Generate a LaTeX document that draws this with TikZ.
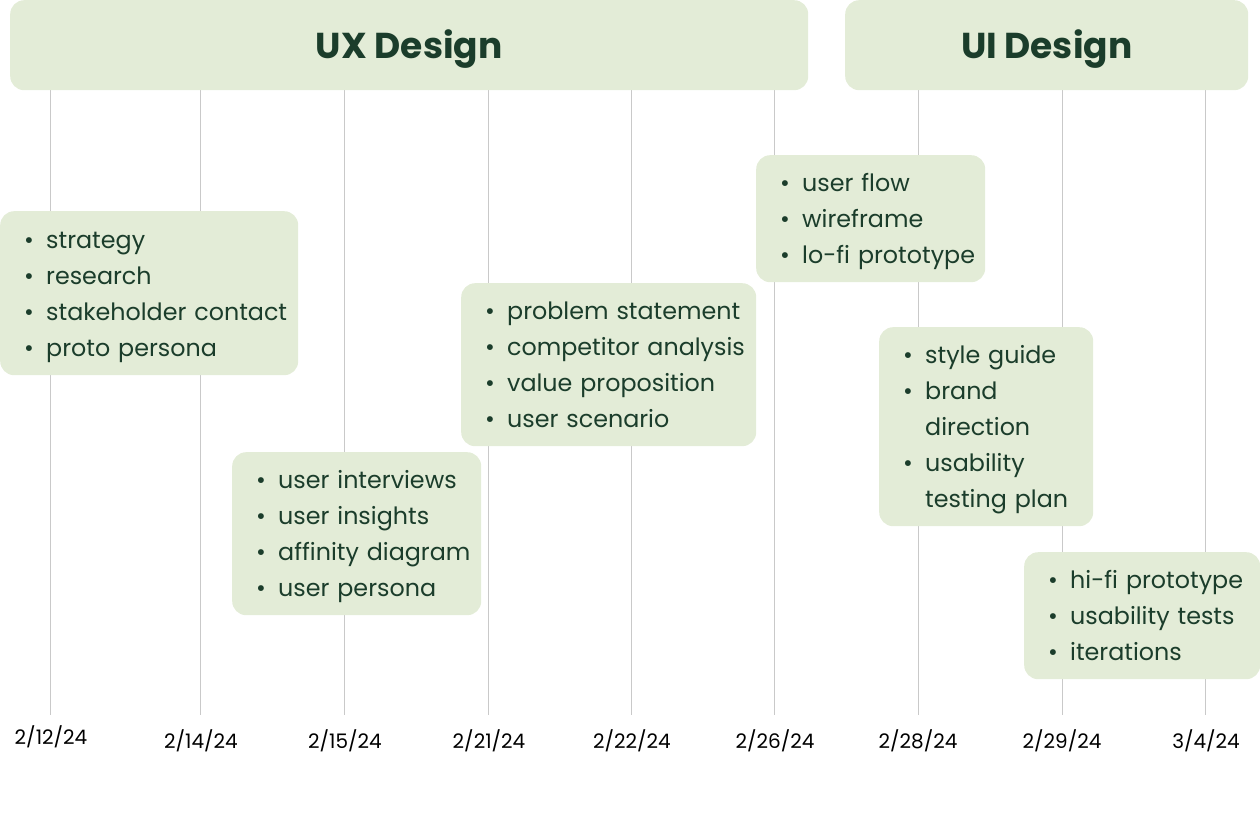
\documentclass[tikz,border=0pt]{standalone}
\usepackage{fontspec}
\setmainfont{Poppins}
\usepackage{xcolor}
\definecolor{sage}{HTML}{E3ECD7}
\definecolor{pine}{HTML}{1B3D2B}
\definecolor{gridgray}{HTML}{C9C9C9}
\newcommand{\bul}[1]{\rule[-9pt]{0pt}{36pt}\hspace*{24pt}\makebox[22pt][l]{•}#1}
\newcommand{\cont}[1]{\rule[-9pt]{0pt}{36pt}\hspace*{46pt}#1}

\begin{document}
\begin{tikzpicture}[x=1pt,y=-1pt,
	phase/.style={fill=sage,rounded corners=14pt,anchor=north west,minimum height=90pt,text height=26pt,text depth=0pt,text=pine,font=\fontsize{36}{40}\selectfont\bfseries},
	taskbox/.style={fill=sage,rounded corners=14pt,anchor=north west,inner xsep=0pt,inner ysep=0pt,align=left,text=pine,font=\fontsize{23.8}{36}\selectfont},
	datelabel/.style={anchor=base,font=\fontsize{20}{22}\selectfont}]
	\useasboundingbox (0,0) rectangle (1260,818);
	\foreach \x in {50,200,344,488,631,774,918,1062,1205}{
		\draw[gridgray,line width=0.8pt] (\x,90) -- (\x,715);
	}
	\node[phase,minimum width=798pt] (ux) at (10,0) {UX Design};
	\node[phase,minimum width=403pt] (ui) at (845,0) {UI Design};
	
	\node[taskbox,text width=298pt,minimum height=164pt] (strategy) at (0,211) {\bul{strategy}\\\bul{research}\\\bul{stakeholder contact}\\\bul{proto persona}};
	\node[taskbox,text width=249pt,minimum height=163pt] (interviews) at (232,452) {\bul{user interviews}\\\bul{user insights}\\\bul{affinity diagram}\\\bul{user persona}};
	\node[taskbox,text width=295pt,minimum height=163pt] (problem) at (461,283) {\bul{problem statement}\\\bul{competitor analysis}\\\bul{value proposition}\\\bul{user scenario}};
	\node[taskbox,text width=229pt,minimum height=127pt] (flow) at (756,155) {\bul{user flow}\\\bul{wireframe}\\\bul{lo-fi prototype}};
	\node[taskbox,text width=214pt,minimum height=199pt] (style) at (879,327) {\bul{style guide}\\\bul{brand}\\\cont{direction}\\\bul{usability}\\\cont{testing plan}};
	\node[taskbox,text width=236pt,minimum height=127pt] (hifi) at (1024,552) {\bul{hi-fi prototype}\\\bul{usability tests}\\\bul{iterations}};
	
	\node[datelabel] (d1) at (51,744) {2/12/24};
	\node[datelabel] (d2) at (201,748) {2/14/24};
	\node[datelabel] (d3) at (345,748) {2/15/24};
	\node[datelabel] (d4) at (489,748) {2/21/24};
	\node[datelabel] (d5) at (632,748) {2/22/24};
	\node[datelabel] (d6) at (775,748) {2/26/24};
	\node[datelabel] (d7) at (918,748) {2/28/24};
	\node[datelabel] (d8) at (1062,748) {2/29/24};
	\node[datelabel] (d9) at (1206,748) {3/4/24};
\end{tikzpicture}
\end{document}
